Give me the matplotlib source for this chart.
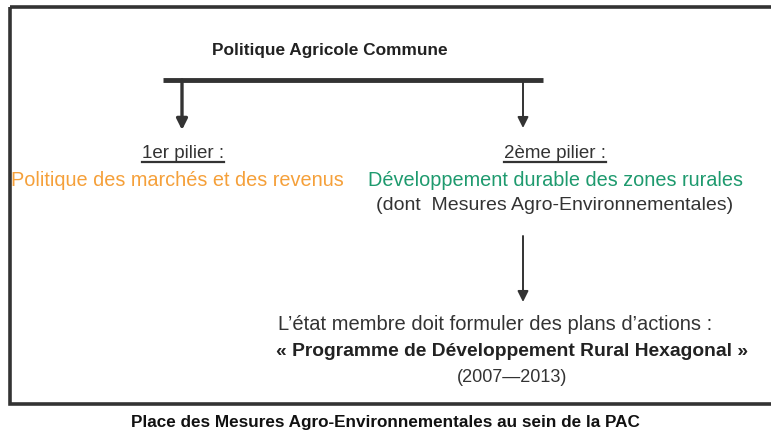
import matplotlib
matplotlib.use("Agg")
import matplotlib.pyplot as plt
from matplotlib.patches import Rectangle

W, H = 771, 437
FONT = ["Liberation Sans", "DejaVu Sans"]

title_text = "Politique Agricole Commune"
pillar_labels = ["1er pilier :", "2ème pilier :"]
pillar_texts = ["Politique des marchés et des revenus",
                "Développement durable des zones rurales"]
pillar_colors = ["#F5A03A", "#1E9A6E"]
pillar2_note = "(dont  Mesures Agro-Environnementales)"
action_line = "L’état membre doit formuler des plans d’actions :"
program_line = "« Programme de Développement Rural Hexagonal »"
years_line = "(2007—2013)"
caption = "Place des Mesures Agro-Environnementales au sein de la PAC"

fig = plt.figure(figsize=(W / 100, H / 100), dpi=100)
ax = fig.add_axes([0, 0, 1, 1])
ax.set_xlim(0, W)
ax.set_ylim(H, 0)
ax.axis("off")

# outer frame
ax.add_patch(Rectangle((10, 7), W - 10 + 5, 397, fill=False, lw=2.6, ec="#333333"))

# title
ax.text(330, 50, title_text, ha="center", va="center", fontsize=12.4,
        fontweight="bold", family=FONT, color="#222222")

# horizontal bar
ax.plot([163, 543], [80, 80], color="#333333", lw=3.5, solid_capstyle="butt")

def down_arrow(x, y0, y1, lw):
    ax.annotate("", xy=(x, y1), xytext=(x, y0),
                arrowprops=dict(arrowstyle="-|>", color="#333333", lw=lw,
                                mutation_scale=16, shrinkA=0, shrinkB=0))

down_arrow(182, 80, 130, 2.4)
down_arrow(523, 80, 128, 1.4)
down_arrow(523, 236, 302, 1.4)

fig.canvas.draw()
renderer = fig.canvas.get_renderer()

def underlined(x, y, s):
    t = ax.text(x, y, s, ha="center", va="center", fontsize=13.5, family=FONT,
                color="#333333")
    bb = t.get_window_extent(renderer)
    inv = ax.transData.inverted()
    (x0, _), (x1, _) = inv.transform([(bb.x0, bb.y0), (bb.x1, bb.y0)])
    ax.plot([x0, x1], [y + 9, y + 9], color="#333333", lw=1.6)

label_x = [183, 555]
pillar_x = [177, 555]
for lx, px, lab, txt, col in zip(label_x, pillar_x, pillar_labels, pillar_texts, pillar_colors):
    underlined(lx, 153, lab)
    ax.text(px, 180, txt, ha="center", va="center", fontsize=14.3,
            family=FONT, color=col)

ax.text(555, 205, pillar2_note, ha="center", va="center", fontsize=14,
        family=FONT, color="#333333")

ax.text(495, 324, action_line, ha="center", va="center", fontsize=14.5,
        family=FONT, color="#333333")
ax.text(512, 351, program_line, ha="center", va="center", fontsize=13.9,
        fontweight="bold", family=FONT, color="#222222")
ax.text(512, 377, years_line, ha="center", va="center", fontsize=13,
        family=FONT, color="#333333")

ax.text(385, 422, caption, ha="center", va="center", fontsize=12.3,
        fontweight="bold", family=FONT, color="#111111")

fig.savefig("out.png", dpi=100)
